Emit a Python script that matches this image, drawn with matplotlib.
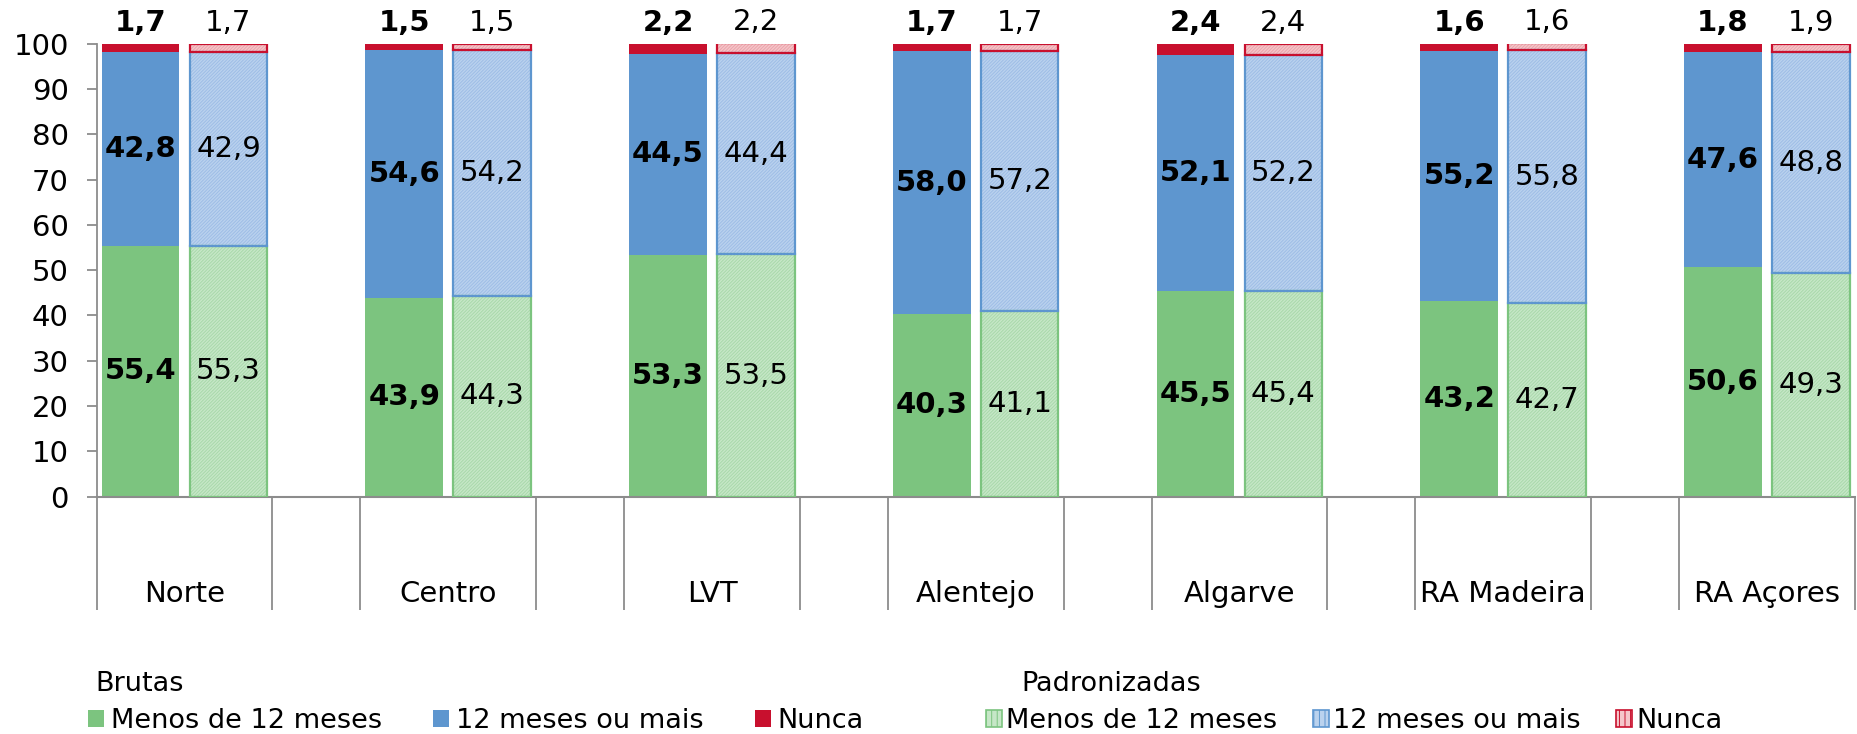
import numpy as np
import matplotlib
matplotlib.use('Agg')
import matplotlib.pyplot as plt
from matplotlib.patches import Patch

regions = ['Norte', 'Centro', 'LVT', 'Alentejo', 'Algarve', 'RA Madeira', 'RA Açores']

# Brutas
brutas_menos = [55.4, 43.9, 53.3, 40.3, 45.5, 43.2, 50.6]
brutas_mais = [42.8, 54.6, 44.5, 58.0, 52.1, 55.2, 47.6]
brutas_nunca = [1.7, 1.5, 2.2, 1.7, 2.4, 1.6, 1.8]

# Padronizadas
padr_menos = [55.3, 44.3, 53.5, 41.1, 45.4, 42.7, 49.3]
padr_mais = [42.9, 54.2, 44.4, 57.2, 52.2, 55.8, 48.8]
padr_nunca = [1.7, 1.5, 2.2, 1.7, 2.4, 1.6, 1.9]

series_names = ['Menos de 12 meses', '12 meses ou mais', 'Nunca']
main_colors = ['#7CC47F', '#5E96CF', '#C8102E']
light_colors = ['#C6E7C7', '#BAD2EE', '#F5C6CA']
hatch_colors = ['#A9D9AB', '#9EBDE6', '#EBA3AA']

FS = 21
LFS = 19.5
plt.rcParams['font.family'] = 'DejaVu Sans'
plt.rcParams['hatch.linewidth'] = 0.7


def fmt(v):
    return f'{v:.1f}'.replace('.', ',')


fig = plt.figure(figsize=(18.58, 7.34), dpi=100)
ax = fig.add_axes([0.052, 0.3233, 0.9463, 0.6172])

n = len(regions)
x_b = np.arange(n) * 3
x_p = x_b + 1
w = 0.883

# brutas bars
bottom = np.zeros(n)
for vals, col in zip([brutas_menos, brutas_mais, brutas_nunca], main_colors):
    vals = np.array(vals)
    ax.bar(x_b, vals, w, bottom=bottom, color=col, edgecolor='none', zorder=2)
    bottom += vals

# padronizadas bars (light fill + fine hatch + coloured edge)
bottom = np.zeros(n)
for vals, lc, hc, mc in zip([padr_menos, padr_mais, padr_nunca],
                            light_colors, hatch_colors, main_colors):
    vals = np.array(vals)
    ax.bar(x_p, vals, w, bottom=bottom, color=lc, edgecolor=hc,
           hatch='//////////', linewidth=0, zorder=2)
    ax.bar(x_p, vals, w, bottom=bottom, fill=False, edgecolor=mc,
           linewidth=1.6, zorder=3)
    bottom += vals

# labels inside the bars
for i in range(n):
    ax.text(x_b[i], brutas_menos[i] / 2, fmt(brutas_menos[i]), ha='center', va='center',
            fontsize=FS, fontweight='bold', zorder=4)
    ax.text(x_b[i], brutas_menos[i] + brutas_mais[i] / 2, fmt(brutas_mais[i]),
            ha='center', va='center', fontsize=FS, fontweight='bold', zorder=4)
    ax.text(x_p[i], padr_menos[i] / 2, fmt(padr_menos[i]), ha='center', va='center',
            fontsize=FS, zorder=4)
    ax.text(x_p[i], padr_menos[i] + padr_mais[i] / 2, fmt(padr_mais[i]),
            ha='center', va='center', fontsize=FS, zorder=4)
    # "Nunca" values above the bars
    top_b = brutas_menos[i] + brutas_mais[i] + brutas_nunca[i]
    top_p = padr_menos[i] + padr_mais[i] + padr_nunca[i]
    ax.annotate(fmt(brutas_nunca[i]), (x_b[i], top_b), xytext=(0, 15),
                textcoords='offset points', ha='center', va='center',
                fontsize=FS, fontweight='bold', annotation_clip=False)
    ax.annotate(fmt(padr_nunca[i]), (x_p[i], top_p), xytext=(0, 15),
                textcoords='offset points', ha='center', va='center',
                fontsize=FS, annotation_clip=False)

# axes styling
grey = '#8C8C8C'
ax.set_xlim(-0.5, 3 * n - 1.5)
ax.set_ylim(0, 100)
ax.set_yticks(np.arange(0, 101, 10))
ax.tick_params(axis='y', labelsize=FS, length=7, width=1.3, color=grey, pad=13)
for s in ['top', 'right']:
    ax.spines[s].set_visible(False)
ax.spines['left'].set_color(grey)
ax.spines['bottom'].set_color(grey)
ax.spines['left'].set_linewidth(1.3)
ax.spines['bottom'].set_linewidth(1.5)

# category labels between separators
ax.set_xticks(x_b + 0.5)
ax.set_xticklabels(regions)
ax.tick_params(axis='x', which='major', length=0, labelsize=FS, pad=60)
seps = sorted(set(list(x_b - 0.5) + list(x_p + 0.5)))
ax.set_xticks(seps, minor=True)
ax.tick_params(axis='x', which='minor', length=81, width=1.3, color=grey, direction='out')

# legends: titles as separate texts, entries in one row each
fig.text(95 / 1858, 1 - 684 / 734, 'Brutas', fontsize=LFS, ha='left', va='center')
fig.text(1021 / 1858, 1 - 684 / 734, 'Padronizadas', fontsize=LFS, ha='left', va='center')
h_b = [Patch(facecolor=c, edgecolor='none') for c in main_colors]
h_p = [Patch(facecolor=lc, edgecolor=mc, hatch='|||', linewidth=1.2)
       for lc, mc in zip(light_colors, main_colors)]
leg_kw = dict(ncol=3, frameon=False, fontsize=LFS,
              handlelength=0.6, handleheight=0.6,
              borderpad=0, borderaxespad=0, loc='center left')
fig.legend(h_b, series_names, bbox_to_anchor=(88 / 1858, 1 - 721 / 734),
           handletextpad=0.25, columnspacing=1.88, **leg_kw)
fig.legend(h_p, series_names, bbox_to_anchor=(986 / 1858, 1 - 721 / 734),
           handletextpad=0.15, columnspacing=1.3, **leg_kw)

fig.savefig('out.png', dpi=100)
